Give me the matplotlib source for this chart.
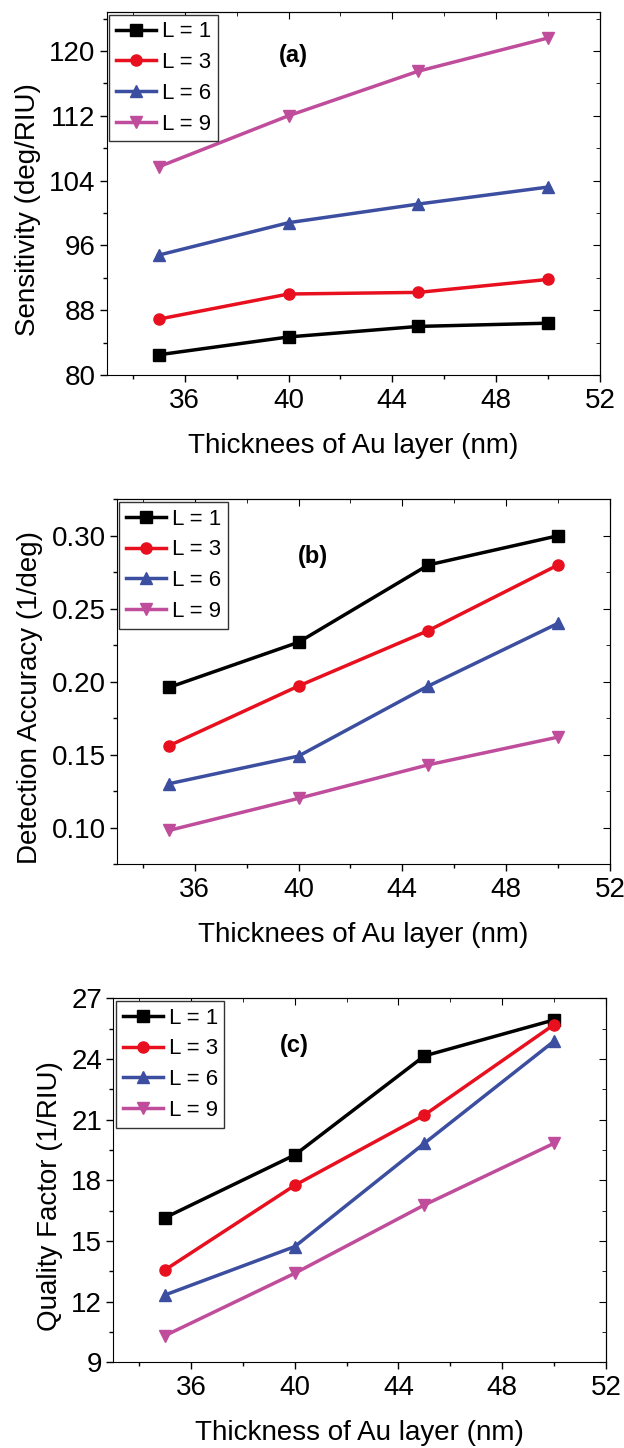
import matplotlib
matplotlib.use('Agg')
import matplotlib.pyplot as plt
from matplotlib.ticker import MultipleLocator, AutoMinorLocator, FormatStrFormatter

plt.rcParams['font.family'] = ['Liberation Sans', 'DejaVu Sans']

thickness = [35, 40, 45, 50]
labels = ['L = 1', 'L = 3', 'L = 6', 'L = 9']
colors = ['#000000', '#e8101e', '#3c4ea0', '#c04c9c']
markers = ['s', 'o', '^', 'v']

# (a) sensitivity
sens_L1 = [82.5, 84.7, 86.0, 86.4]
sens_L3 = [86.9, 90.0, 90.2, 91.8]
sens_L6 = [94.8, 98.8, 101.1, 103.2]
sens_L9 = [105.7, 112.0, 117.5, 121.6]

# (b) detection accuracy
da_L1 = [0.196, 0.227, 0.280, 0.300]
da_L3 = [0.156, 0.197, 0.235, 0.280]
da_L6 = [0.130, 0.149, 0.197, 0.240]
da_L9 = [0.098, 0.120, 0.143, 0.162]

# (c) quality factor
qf_L1 = [16.15, 19.25, 24.15, 25.93]
qf_L3 = [13.57, 17.75, 21.23, 25.70]
qf_L6 = [12.33, 14.72, 19.83, 24.88]
qf_L9 = [10.32, 13.40, 16.78, 19.83]

panels = [
    dict(rect=[0.1712, 0.741, 0.7904, 0.2507], data=[sens_L1, sens_L3, sens_L6, sens_L9],
         ylim=(80, 124.8), major=8, ylabel='Sensitivity (deg/RIU)',
         xlabel='Thicknees of Au layer (nm)', tag='(a)', tagpos=(40.2, 119.4), fmt='%d'),
    dict(rect=[0.1872, 0.4033, 0.7904, 0.2519], data=[da_L1, da_L3, da_L6, da_L9],
         ylim=(0.075, 0.325), major=0.05, ylabel='Detection Accuracy (1/deg)',
         xlabel='Thicknees of Au layer (nm)', tag='(b)', tagpos=(40.56, 0.2858), fmt='%.2f'),
    dict(rect=[0.1814, 0.0592, 0.7897, 0.2514], data=[qf_L1, qf_L3, qf_L6, qf_L9],
         ylim=(9, 27), major=3, ylabel='Quality Factor (1/RIU)',
         xlabel='Thickness of Au layer (nm)', tag='(c)', tagpos=(40.0, 24.64), fmt='%d'),
]

fig = plt.figure(figsize=(6.24, 14.48), dpi=100)

for p in panels:
    ax = fig.add_axes(p['rect'])
    for ys, lab, c, m in zip(p['data'], labels, colors, markers):
        ax.plot(thickness, ys, color=c, marker=m, lw=2.5, ms=8, label=lab)
    ax.set_xlim(33, 52)
    ax.set_ylim(*p['ylim'])
    ax.xaxis.set_major_locator(MultipleLocator(4))
    ax.xaxis.set_minor_locator(AutoMinorLocator(2))
    ax.yaxis.set_major_locator(MultipleLocator(p['major']))
    ax.yaxis.set_minor_locator(AutoMinorLocator(2))
    ax.yaxis.set_major_formatter(FormatStrFormatter(p['fmt']))
    ax.tick_params(which='both', direction='out', labelsize=20, width=1)
    ax.tick_params(axis='x', pad=4)
    ax.tick_params(axis='y', pad=3)
    ax.tick_params(which='major', length=5)
    ax.tick_params(which='minor', length=3)
    # mirrored ticks pointing inward on top and right
    top = ax.secondary_xaxis('top')
    top.xaxis.set_major_locator(MultipleLocator(4))
    top.xaxis.set_minor_locator(AutoMinorLocator(2))
    top.tick_params(which='both', direction='in', labeltop=False)
    top.tick_params(which='major', length=5)
    top.tick_params(which='minor', length=3)
    right = ax.secondary_yaxis('right')
    right.yaxis.set_major_locator(MultipleLocator(p['major']))
    right.yaxis.set_minor_locator(AutoMinorLocator(2))
    right.tick_params(which='both', direction='in', labelright=False)
    right.tick_params(which='major', length=5)
    right.tick_params(which='minor', length=3)
    ax.set_xlabel(p['xlabel'], fontsize=20, labelpad=14)
    ax.set_ylabel(p['ylabel'], fontsize=20, labelpad=6)
    ax.yaxis.label.set_y(0.456)
    ax.text(p['tagpos'][0], p['tagpos'][1], p['tag'], fontsize=17, fontweight='bold',
            ha='center', va='center')
    leg = ax.legend(loc='upper left', fontsize=16, handlelength=1.8, handletextpad=0.27,
                    labelspacing=0.44, borderaxespad=0.12, borderpad=0.3, fancybox=False,
                    edgecolor='#333333', framealpha=1)
    leg.get_frame().set_linewidth(1)

fig.savefig('out.png', dpi=100)
